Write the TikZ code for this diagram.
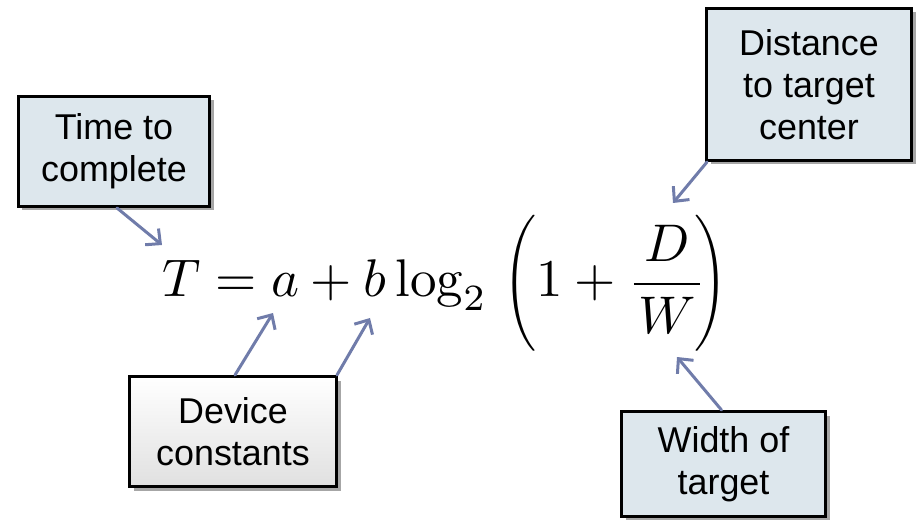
\documentclass[tikz,border=0pt]{standalone}
\usepackage{amsmath}
\usepackage{graphicx}
\usepackage{fontspec}
\newfontfamily\boxfont{Liberation Sans}
\usetikzlibrary{arrows.meta,shadows,calc}
\definecolor{boxfill}{RGB}{221,231,237}
\definecolor{arrowc}{RGB}{112,124,170}
\newsavebox\eqbox
\newcommand\tallparen[2]{\vcenter{\hbox{\scalebox{0.85}[1.07]{$\displaystyle\nulldelimiterspace=0pt #1\vphantom{\frac{D}{W}}#2$}}}}
\begin{document}
\begin{tikzpicture}[x=1bp,y=-1bp,
  note/.style={draw=black, line width=3bp, fill=boxfill, align=center, inner sep=0pt,
    font=\boxfont\fontsize{36}{42}\selectfont,
    drop shadow={shadow xshift=4bp, shadow yshift=-4bp, opacity=0.35, fill=black}},
  grad/.style={note, top color=white, bottom color=black!12},
  conn/.style={draw=arrowc, line width=3bp, line cap=round,
    -{Straight Barb[length=11bp,width=21bp]}}]
\useasboundingbox (0,0) rectangle (917,520);

\sbox\eqbox{$\displaystyle T = a + b\log_2\left(1+\frac{D}{W}\right)$}
\pgfmathsetmacro\eqs{1.027*560.09/\wd\eqbox}

\node[anchor=base west, inner sep=0pt] (eq) at (162,297)
  {\scalebox{\eqs}{$\displaystyle T = a + b\log_2\mkern5.5mu\mathopen{\tallparen{\left(}{\right.}}1+\frac{\mkern1.5mu D\mkern1.5mu}{\mkern1.5mu W\mkern1.5mu}\mkern-4mu\mathclose{\tallparen{\left.}{\right)}}$}};

\node[note, minimum width=191bp, minimum height=110bp] (time) at (114,151.5) {Time to\\complete};
\node[note, minimum width=205bp, minimum height=152bp] (dist) at (809,84.5) {Distance\\to target\\center};
\node[grad, minimum width=207bp, minimum height=110bp] (dev) at (233,431.5) {Device\\constants};
\node[note, minimum width=204bp, minimum height=105bp] (wid) at (723.5,464) {Width of\\target};

\coordinate (tT) at (162,245);
\coordinate (ta) at (273,313);
\coordinate (tb) at (370,318);
\coordinate (tD) at (673,203);
\coordinate (tW) at (677,357);

\draw[conn] ([xshift=3bp]time.south) -- (tT);
\draw[conn] ([xshift=2bp]dev.north) -- (ta);
\draw[conn] ([xshift=-1bp]dev.north east) -- (tb);
\draw[conn] ([xshift=2bp]dist.south west) -- (tD);
\draw[conn] ([xshift=-2bp]wid.north) -- (tW);
\end{tikzpicture}
\end{document}
